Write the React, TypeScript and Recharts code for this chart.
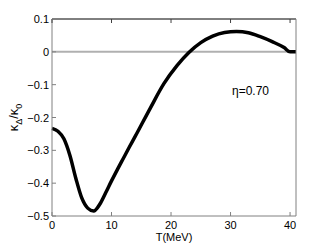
import React from "react";
import { Line, LineChart, ReferenceLine, XAxis, YAxis } from "recharts";

// kappa_Delta / kappa_0 against temperature, eta = 0.70
const T_MEV = [0, 1, 2, 3, 4, 5, 6, 7, 8, 9, 10, 11, 12, 13, 14, 16.5, 18.8, 21, 23, 25, 27, 29, 31, 33, 35, 37, 39, 40, 41];
const KAPPA_RATIO = [
  -0.233, -0.242, -0.265, -0.315, -0.385, -0.445, -0.476, -0.485, -0.465, -0.43, -0.393, -0.358, -0.324, -0.29,
  -0.257, -0.172, -0.097, -0.042, -0.002, 0.028, 0.048, 0.059, 0.062, 0.058, 0.046, 0.031, 0.013, 0, 0,
];
const X_TICKS = [0, 10, 20, 30, 40];
const Y_TICKS = [0.1, 0, -0.1, -0.2, -0.3, -0.4, -0.5];

const FONT = "'Liberation Sans', Arial, Helvetica, sans-serif";
const GRAY = "#808080";
const TICK_LEN = 4;

const rows = T_MEV.map((t, i) => ({ t, k: KAPPA_RATIO[i] }));

const fmt = (v: number) => (v < 0 ? "\u2212" + String(-v) : String(v));

function LeftTick({ x, y, payload }: any) {
  return (
    <g>
      <line x1={x} y1={y} x2={x + TICK_LEN} y2={y} stroke={GRAY} />
      <text x={x - 3} y={y} dy={4} textAnchor="end" fontSize={11} fontFamily={FONT} fill="#000">
        {fmt(payload.value)}
      </text>
    </g>
  );
}

function RightTick({ x, y }: any) {
  return <line x1={x} y1={y} x2={x - TICK_LEN} y2={y} stroke={GRAY} />;
}

function BottomTick({ x, y, payload }: any) {
  return (
    <g>
      <line x1={x} y1={y} x2={x} y2={y - TICK_LEN} stroke={GRAY} />
      <text x={x} y={y + 13} textAnchor="middle" fontSize={11} fontFamily={FONT} fill="#000">
        {payload.value}
      </text>
    </g>
  );
}

function TopTick({ x, y }: any) {
  return <line x1={x} y1={y} x2={x} y2={y + TICK_LEN} stroke="#404040" />;
}

function YLabel({ viewBox }: any) {
  const cx = 18;
  const cy = viewBox.y + viewBox.height / 2;
  return (
    <text
      x={cx}
      y={cy}
      transform={`rotate(-90 ${cx} ${cy})`}
      textAnchor="middle"
      fontSize={13}
      fontFamily={FONT}
      fill="#000"
    >
      <tspan>κ</tspan>
      <tspan dy={4} fontSize={9}>Δ</tspan>
      <tspan dy={-4}>/κ</tspan>
      <tspan dy={4} fontSize={9}>0</tspan>
    </text>
  );
}

function TLabel({ viewBox }: any) {
  const cx = viewBox.x + viewBox.width / 2;
  return (
    <text x={cx} y={241} textAnchor="middle" fontSize={11} fontFamily={FONT} fill="#000">
      T(MeV)
    </text>
  );
}

export default function App() {
  return (
    <div style={{ position: "absolute", left: 0, top: 0, width: 327, height: 246, background: "#fff" }}>
      <LineChart width={327} height={246} data={rows} margin={{ top: 14, right: 26, bottom: 5, left: 12 }}>
        <XAxis
          dataKey="t"
          type="number"
          domain={[0, 41]}
          ticks={X_TICKS}
          interval={0}
          height={25}
          tickSize={0}
          tickMargin={0}
          tickLine={false}
          axisLine={{ stroke: GRAY }}
          tick={<BottomTick />}
          label={<TLabel />}
        />
        <XAxis
          xAxisId="top"
          orientation="top"
          dataKey="t"
          type="number"
          domain={[0, 41]}
          ticks={X_TICKS}
          interval={0}
          height={5}
          tickSize={0}
          tickMargin={0}
          tickLine={false}
          axisLine={{ stroke: "#000" }}
          tick={<TopTick />}
        />
        <YAxis
          type="number"
          domain={[-0.5, 0.1]}
          ticks={Y_TICKS}
          interval={0}
          width={40}
          tickSize={0}
          tickMargin={0}
          tickLine={false}
          axisLine={{ stroke: GRAY }}
          tick={<LeftTick />}
          label={<YLabel />}
        />
        <YAxis
          yAxisId="right"
          orientation="right"
          type="number"
          domain={[-0.5, 0.1]}
          ticks={Y_TICKS}
          interval={0}
          width={5}
          tickSize={0}
          tickMargin={0}
          tickLine={false}
          axisLine={{ stroke: GRAY }}
          tick={<RightTick />}
        />
        <ReferenceLine y={0} stroke="#b0b0b0" strokeWidth={2} />
        <Line
          type="monotone"
          dataKey="k"
          stroke="#000"
          strokeWidth={3.5}
          dot={false}
          isAnimationActive={false}
        />
      </LineChart>
      <div
        style={{
          position: "absolute",
          left: 232,
          top: 84,
          fontFamily: FONT,
          fontSize: 12,
          color: "#000",
          whiteSpace: "nowrap",
        }}
      >
        η=0.70
      </div>
    </div>
  );
}
